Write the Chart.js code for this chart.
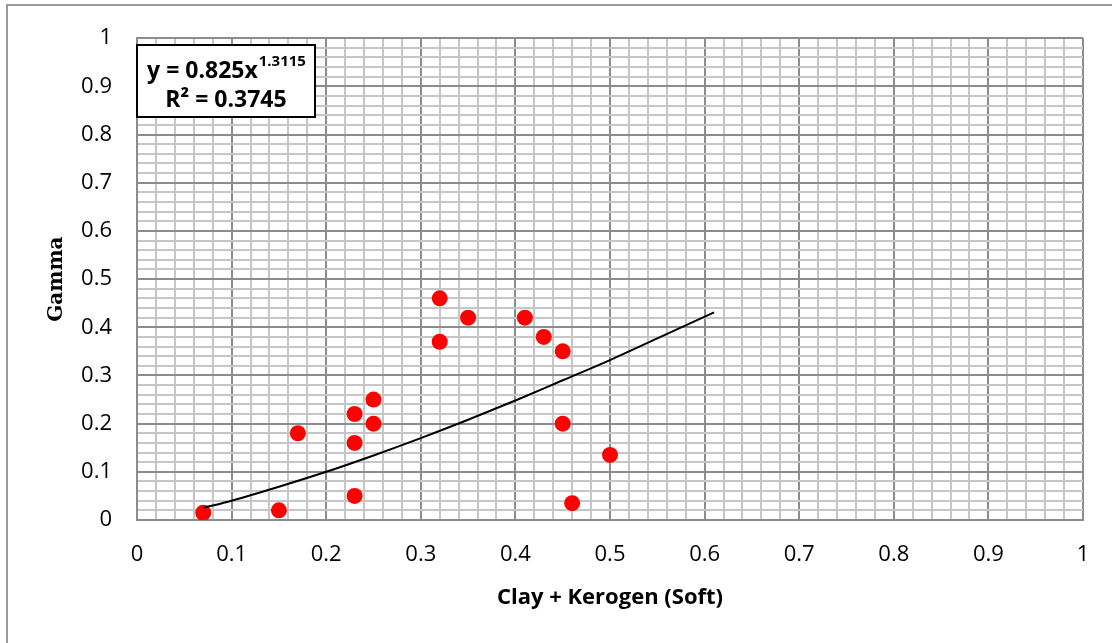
<!DOCTYPE html>
<html>
<head>
<meta charset="utf-8">
<script src="https://cdn.jsdelivr.net/npm/chart.js@4.4.1/dist/chart.umd.min.js"></script>
<style>
  html, body { margin: 0; padding: 0; background: #fff; }
  #wrap { position: relative; width: 1112px; height: 643px; }
  canvas { display: block; }
</style>
</head>
<body>
<div id="wrap"><canvas id="c" width="1112" height="643"></canvas></div>
<script>
// ---- data ----
const xValues = [0.07, 0.15, 0.17, 0.23, 0.23, 0.23, 0.25, 0.25, 0.32, 0.32, 0.35, 0.41, 0.43, 0.45, 0.45, 0.50, 0.46];
const yValues = [0.015, 0.02, 0.18, 0.22, 0.16, 0.05, 0.25, 0.20, 0.46, 0.37, 0.42, 0.42, 0.38, 0.35, 0.20, 0.135, 0.035];
// power trendline (y = 0.825x^1.3115)
const trendX = [0.07, 0.10, 0.15, 0.20, 0.25, 0.30, 0.35, 0.40, 0.45, 0.50, 0.55, 0.61];
const trendY = [0.025, 0.040, 0.069, 0.100, 0.134, 0.170, 0.208, 0.248, 0.290, 0.332, 0.377, 0.431];
const tickLabels = ['0', '0.1', '0.2', '0.3', '0.4', '0.5', '0.6', '0.7', '0.8', '0.9', '1'];
const xTitle = 'Clay + Kerogen (Soft)';
const yTitle = 'Gamma';
const eqMain = 'y = 0.825x';
const eqExp = '1.3115';
const eqR2 = 'R² = 0.3745';

const scatterData = xValues.map((x, i) => ({ x: x, y: yValues[i] }));
const trendData = trendX.map((x, i) => ({ x: x, y: trendY[i] }));

function isMajor(v) { return Math.abs(v * 10 - Math.round(v * 10)) < 1e-6; }
function labelFor(v) {
  if (!isMajor(v)) return '';
  return tickLabels[Math.round(v * 10)];
}
const MAJOR = '#8c8c8c', MINOR = '#c6c6c6';
const tickFont = { family: 'Open Sans', size: 22 };

const framePlugin = {
  id: 'frame',
  afterDraw(chart) {
    const ctx = chart.ctx;
    ctx.save();
    // outer chart border
    ctx.strokeStyle = '#9a9a9a';
    ctx.lineWidth = 2;
    ctx.beginPath();
    ctx.moveTo(7, 643);
    ctx.lineTo(7, 5);
    ctx.lineTo(1112, 5);
    ctx.stroke();
    // equation box
    const bx = 137, by = 45, bw = 178, bh = 72;
    ctx.fillStyle = '#fff';
    ctx.fillRect(bx, by, bw, bh);
    ctx.strokeStyle = '#000';
    ctx.lineWidth = 2;
    ctx.strokeRect(bx, by, bw, bh);
    ctx.fillStyle = '#000';
    ctx.textBaseline = 'alphabetic';
    ctx.textAlign = 'left';
    const cx = bx + bw / 2;
    ctx.font = 'bold 23px "Open Sans"';
    const w1 = ctx.measureText(eqMain).width;
    ctx.font = 'bold 15px "Open Sans"';
    const w2 = ctx.measureText(eqExp).width;
    const sx = cx - (w1 + w2) / 2;
    ctx.font = 'bold 23px "Open Sans"';
    ctx.fillText(eqMain, sx, 78);
    ctx.font = 'bold 15px "Open Sans"';
    ctx.fillText(eqExp, sx + w1 + 1, 66);
    ctx.font = 'bold 23px "Open Sans"';
    ctx.textAlign = 'center';
    ctx.fillText(eqR2, cx, 107);
    ctx.restore();
  }
};

new Chart(document.getElementById('c'), {
  type: 'scatter',
  data: {
    datasets: [
      {
        type: 'line',
        data: trendData,
        showLine: true,
        borderColor: '#000',
        borderWidth: 2,
        pointRadius: 0,
        fill: false,
        cubicInterpolationMode: 'monotone'
      },
      {
        data: scatterData,
        backgroundColor: '#ff0000',
        borderColor: '#ff0000',
        pointRadius: 8,
        pointHoverRadius: 8,
        borderWidth: 0
      }
    ]
  },
  plugins: [framePlugin],
  options: {
    responsive: false,
    animation: false,
    events: [],
    layout: { padding: { left: 0, right: 29, top: 35, bottom: 0 } },
    plugins: { legend: { display: false }, tooltip: { enabled: false } },
    scales: {
      x: {
        type: 'linear',
        min: 0, max: 1,
        afterFit(s) { s.height = 123; },
        ticks: {
          stepSize: 0.02, autoSkip: false, maxRotation: 0,
          color: '#000', font: tickFont, padding: 22,
          callback: (v) => labelFor(v)
        },
        grid: {
          drawTicks: false,
          color: (c) => isMajor(c.tick.value) ? MAJOR : MINOR,
          lineWidth: 2
        },
        border: { display: true, color: MAJOR, width: 2 },
        title: {
          display: true, text: xTitle, color: '#000',
          font: { family: 'Open Sans', size: 22, weight: 'bold' },
          padding: { top: 0, bottom: 32 }
        }
      },
      y: {
        type: 'linear',
        min: 0, max: 1,
        afterFit(s) { s.width = 137; },
        ticks: {
          stepSize: 0.02, autoSkip: false,
          color: '#000', font: tickFont, padding: 25,
          callback: (v) => labelFor(v)
        },
        grid: {
          drawTicks: false,
          color: (c) => isMajor(c.tick.value) ? MAJOR : MINOR,
          lineWidth: 2
        },
        border: { display: true, color: MAJOR, width: 2 },
        title: {
          display: true, text: yTitle, color: '#000',
          font: { family: 'DejaVu Serif', size: 20, weight: 'bold' },
          padding: { top: 45, bottom: 0 }
        }
      }
    }
  }
});
</script>
</body>
</html>
